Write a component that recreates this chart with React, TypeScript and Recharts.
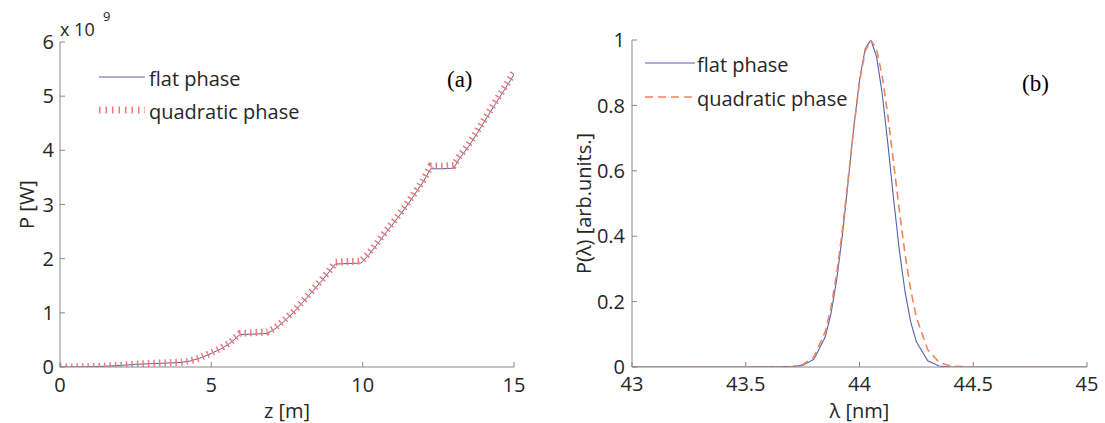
import React from 'react';
import { LineChart, Line, XAxis, YAxis, Legend } from 'recharts';

// (a) power growth along the undulator, values in units of 1e9 W
const zPos = [0, 0.5, 1, 1.5, 2, 2.5, 3, 3.5, 4, 4.3, 4.6, 5, 5.3, 5.6, 5.95, 6.5, 6.85, 7.1, 7.4, 7.7, 8, 8.3, 8.6, 8.9, 9.1, 9.5, 9.95, 10.2, 10.5, 10.8, 11.1, 11.4, 11.7, 12, 12.25, 12.6, 13, 13.2, 13.5, 13.8, 14.1, 14.4, 14.7, 15];
const powerFlat = [0, 0.002, 0.006, 0.015, 0.03, 0.048, 0.062, 0.072, 0.085, 0.11, 0.16, 0.25, 0.33, 0.43, 0.6, 0.61, 0.62, 0.7, 0.84, 1.0, 1.18, 1.37, 1.56, 1.76, 1.9, 1.91, 1.92, 2.07, 2.28, 2.5, 2.71, 2.93, 3.17, 3.42, 3.66, 3.66, 3.67, 3.85, 4.07, 4.33, 4.6, 4.87, 5.13, 5.4];
const powerQuad = [0, 0.002, 0.007, 0.017, 0.033, 0.052, 0.067, 0.077, 0.09, 0.115, 0.165, 0.26, 0.345, 0.445, 0.62, 0.635, 0.645, 0.72, 0.86, 1.02, 1.2, 1.39, 1.58, 1.78, 1.93, 1.945, 1.955, 2.1, 2.31, 2.53, 2.74, 2.96, 3.2, 3.45, 3.71, 3.71, 3.72, 3.89, 4.11, 4.37, 4.64, 4.91, 5.17, 5.44];
const zTicks = [0, 5, 10, 15];
const powerTicks = [0, 1, 2, 3, 4, 5, 6];

// (b) normalised spectra
const lambda = [43, 43.5, 43.7, 43.75, 43.8, 43.85, 43.875, 43.9, 43.925, 43.95, 43.975, 44, 44.025, 44.05, 44.075, 44.1, 44.125, 44.15, 44.175, 44.2, 44.225, 44.25, 44.3, 44.35, 44.4, 44.5, 45];
const specFlat = [0, 0, 0.001, 0.005, 0.024, 0.093, 0.165, 0.268, 0.405, 0.566, 0.733, 0.877, 0.973, 1.0, 0.949, 0.835, 0.68, 0.513, 0.358, 0.231, 0.138, 0.077, 0.019, 0.003, 0, 0, 0];
const specQuad = [0, 0, 0.001, 0.007, 0.031, 0.109, 0.183, 0.287, 0.421, 0.575, 0.732, 0.871, 0.966, 1.0, 0.971, 0.889, 0.767, 0.624, 0.479, 0.346, 0.236, 0.152, 0.053, 0.014, 0.003, 0, 0];
const lambdaTicks = [43, 43.5, 44, 44.5, 45];
const specTicks = [0, 0.2, 0.4, 0.6, 0.8, 1];

const seriesNames = ['flat phase', 'quadratic phase'];

const FONT = '"Open Sans", sans-serif';
const FRAME = '#878787';
const TEXT = '#262626';
const BLUE = '#5560ac';
const RED = '#f07878';
const ORANGE = '#f2845c';

const gainData = zPos.map((z, i) => ({ z, flat: powerFlat[i], quad: powerQuad[i] }));
const specData = lambda.map((l, i) => ({ l, flat: specFlat[i], quad: specQuad[i] }));

const tickFont = { fontSize: 20, fill: TEXT, fontFamily: FONT };
const labelFont = { fontSize: 20, fill: TEXT, fontFamily: FONT };

const fmtSpec = (v: number) => (v === 0 || v === 1 ? String(v) : v.toFixed(1));

// top / right axes only carry the inward tick marks, no labels
const noLabel = () => <g />;

// legend drawn as a small svg so the samples match the line styles
const makeLegend = (
  samples: { x1: number; x2: number; textX: number; rows: number[] },
  quad: { stroke: string; width: number; dash: string },
) => (props: any) => {
  const payload = props.payload || [];
  return (
    <svg width={240} height={80} style={{ display: 'block', overflow: 'visible' }}>
      {payload.map((entry: any, i: number) => {
        const y = samples.rows[i];
        const isQuad = entry.dataKey === 'quad';
        return (
          <g key={entry.value}>
            <line
              x1={samples.x1}
              x2={samples.x2}
              y1={y}
              y2={y}
              stroke={isQuad ? quad.stroke : BLUE}
              strokeWidth={isQuad ? quad.width : 1}
              strokeDasharray={isQuad ? quad.dash : undefined}
            />
            <text x={samples.textX} y={y + 9} fontSize={20} fill={TEXT} fontFamily={FONT}>
              {entry.value}
            </text>
          </g>
        );
      })}
    </svg>
  );
};

const leftLegend = makeLegend({ x1: 9, x2: 55, textX: 59, rows: [19, 52] }, { stroke: RED, width: 7, dash: '1.5 5' });
const rightLegend = makeLegend({ x1: 5, x2: 55, textX: 57, rows: [19, 53] }, { stroke: ORANGE, width: 1.6, dash: '8 5' });

const GainChart = () => (
  <LineChart width={545} height={423} data={gainData} margin={{ top: 42, right: 31, bottom: 0, left: 0 }}>
    <XAxis
      xAxisId="b"
      dataKey="z"
      type="number"
      domain={[0, 15]}
      ticks={zTicks}
      allowDataOverflow
      height={56}
      tickSize={-5}
      tickMargin={16}
      tick={tickFont}
      stroke={FRAME}
      label={{ value: 'z [m]', position: 'insideBottom', offset: 5, style: labelFont }}
    />
    <XAxis xAxisId="t" orientation="top" dataKey="z" type="number" domain={[0, 15]} ticks={zTicks} height={0} tickSize={-5} tick={noLabel} stroke={FRAME} />
    <YAxis
      yAxisId="l"
      type="number"
      domain={[0, 6]}
      ticks={powerTicks}
      allowDataOverflow
      width={60}
      tickSize={-5}
      tickMargin={11}
      tick={tickFont}
      stroke={FRAME}
      label={{ value: 'P [W]', angle: -90, position: 'center', dx: -3, style: labelFont }}
    />
    <YAxis yAxisId="r" orientation="right" type="number" domain={[0, 6]} ticks={powerTicks} width={0} tickSize={-5} tick={noLabel} stroke={FRAME} />
    <Legend
      layout="vertical"
      align="center"
      verticalAlign="middle"
      wrapperStyle={{ left: 90, top: 58, width: 'auto' }}
      content={leftLegend}
    />
    <Line xAxisId="b" yAxisId="l" name={seriesNames[0]} dataKey="flat" stroke={BLUE} strokeWidth={1} dot={false} isAnimationActive={false} />
    <Line xAxisId="b" yAxisId="l" name={seriesNames[1]} dataKey="quad" stroke={RED} strokeWidth={7} strokeDasharray="1.5 4" dot={false} isAnimationActive={false} />
    <text x={60} y={36} fontSize={18} fill={TEXT} fontFamily={FONT}>x 10</text>
    <text x={103} y={21} fontSize={13} fill={TEXT} fontFamily={FONT}>9</text>
    <text x={447} y={87} fontSize={23} fill="#000" fontFamily='"Liberation Serif", serif'>(a)</text>
  </LineChart>
);

const SpectrumChart = () => (
  <LineChart width={560} height={423} data={specData} margin={{ top: 40, right: 18, bottom: 0, left: 0 }}>
    <XAxis
      xAxisId="b"
      dataKey="l"
      type="number"
      domain={[43, 45]}
      ticks={lambdaTicks}
      allowDataOverflow
      height={56}
      tickSize={-5}
      tickMargin={15}
      tick={tickFont}
      stroke={FRAME}
      label={{ value: 'λ [nm]', position: 'insideBottom', offset: 5, style: labelFont }}
    />
    <XAxis xAxisId="t" orientation="top" dataKey="l" type="number" domain={[43, 45]} ticks={lambdaTicks} height={0} tickSize={-5} tick={noLabel} stroke={FRAME} />
    <YAxis
      yAxisId="l"
      type="number"
      domain={[0, 1]}
      ticks={specTicks}
      allowDataOverflow
      width={87}
      tickSize={-5}
      tickMargin={12}
      tick={tickFont}
      tickFormatter={fmtSpec}
      stroke={FRAME}
      label={{ value: 'P(λ) [arb.units.]', angle: -90, position: 'center', dx: -5, style: labelFont }}
    />
    <YAxis yAxisId="r" orientation="right" type="number" domain={[0, 1]} ticks={specTicks} width={0} tickSize={-5} tick={noLabel} stroke={FRAME} />
    <Legend
      layout="vertical"
      align="center"
      verticalAlign="middle"
      wrapperStyle={{ left: 95, top: 44, width: 'auto' }}
      content={rightLegend}
    />
    <Line xAxisId="b" yAxisId="l" name={seriesNames[0]} dataKey="flat" stroke={BLUE} strokeWidth={1.1} dot={false} isAnimationActive={false} />
    <Line xAxisId="b" yAxisId="l" name={seriesNames[1]} dataKey="quad" stroke={ORANGE} strokeWidth={1.6} strokeDasharray="8 5" dot={false} isAnimationActive={false} />
    <text x={477} y={91} fontSize={23} fill="#000" fontFamily='"Liberation Serif", serif'>(b)</text>
  </LineChart>
);

export default function App() {
  return (
    <div style={{ position: 'absolute', left: 0, top: 0, width: 1105, height: 423, background: '#fff' }}>
      <div style={{ position: 'absolute', left: 0, top: 0 }}>
        <GainChart />
      </div>
      <div style={{ position: 'absolute', left: 545, top: 0 }}>
        <SpectrumChart />
      </div>
    </div>
  );
}
